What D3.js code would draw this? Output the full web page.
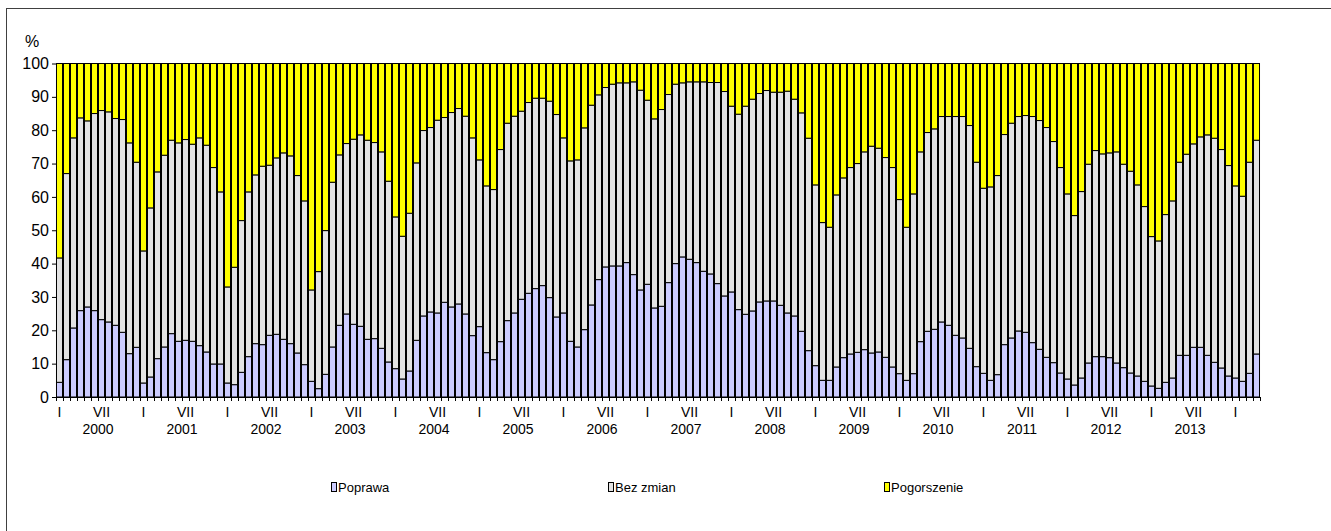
<!DOCTYPE html>
<html>
<head>
<meta charset="utf-8">
<script src="https://cdn.jsdelivr.net/npm/d3@7"></script>
<style>
  body { margin: 0; background: #fff; }
  svg text { font-family: "Liberation Sans", Arial, sans-serif; fill: #000; }
</style>
</head>
<body>
<div id="art"></div>
<script>
// months are shown as roman numerals, years below
const years = [2000, 2001, 2002, 2003, 2004, 2005, 2006, 2007, 2008, 2009, 2010, 2011, 2012, 2013, 2014];
const months = ["I", "II", "III", "IV", "V", "VI", "VII", "VIII", "IX", "X", "XI", "XII"];
const shownMonths = ["I", "VII"];
const seriesNames = ["Poprawa", "Bez zmian", "Pogorszenie"];
const yTicks = [0, 10, 20, 30, 40, 50, 60, 70, 80, 90, 100];

// one row per year, Jan..Dec (2014: Jan..Apr)
const poprawa = [
  4.4, 11.2, 20.7, 25.9, 27.0, 25.9, 23.2, 22.5, 21.5, 19.4, 13.0, 14.9,
  4.2, 6.0, 11.5, 15.0, 19.0, 16.7, 17.0, 16.7, 15.4, 13.5, 9.9, 9.9,
  4.2, 3.7, 7.4, 12.1, 16.0, 15.7, 18.5, 18.8, 17.3, 16.0, 13.2, 9.7,
  4.7, 2.5, 6.8, 15.0, 21.5, 24.9, 21.8, 21.2, 17.3, 17.5, 14.6, 10.5,
  8.5, 5.4, 7.8, 17.0, 24.3, 25.5, 25.2, 28.4, 27.0, 27.9, 24.9, 18.4,
  21.1, 13.3, 11.2, 16.6, 22.9, 25.2, 29.3, 31.1, 32.5, 33.4, 29.8, 24.0,
  25.2, 16.7, 15.0, 20.2, 27.6, 35.2, 39.0, 39.3, 39.3, 40.3, 36.7, 32.1,
  33.8, 26.7, 27.2, 34.3, 40.0, 42.0, 41.3, 40.3, 37.7, 36.9, 34.0, 30.3,
  31.5, 26.2, 24.8, 25.8, 28.5, 28.8, 28.8, 27.5, 25.2, 24.3, 19.7, 13.9,
  9.4, 5.0, 5.0, 9.0, 11.8, 12.9, 13.4, 14.2, 13.2, 13.5, 11.9, 9.0,
  7.0, 5.0, 7.0, 16.6, 19.7, 20.3, 22.5, 21.5, 18.5, 17.7, 14.6, 9.1,
  7.1, 5.0, 6.7, 15.7, 17.7, 19.8, 19.4, 16.3, 14.3, 11.9, 10.3, 7.2,
  5.4, 3.6, 5.7, 10.2, 12.1, 12.1, 11.8, 10.2, 8.8, 7.2, 6.3, 4.7,
  3.3, 2.6, 4.4, 5.7, 12.5, 12.5, 14.9, 14.9, 12.5, 10.4, 8.7, 6.3,
  5.7, 4.7, 7.1, 12.9
];

const bezZmian = [
  37.3, 55.8, 57.0, 57.8, 55.8, 59.1, 62.7, 63.0, 62.0, 63.8, 63.2, 55.5,
  39.6, 50.7, 56.0, 57.5, 58.0, 59.5, 60.2, 59.1, 62.3, 62.0, 58.9, 51.6,
  28.8, 35.2, 45.5, 49.4, 50.6, 53.5, 51.0, 52.9, 55.9, 56.3, 53.2, 49.1,
  27.4, 35.1, 43.1, 49.4, 51.1, 51.1, 55.5, 57.4, 59.7, 58.8, 58.9, 54.2,
  45.5, 42.8, 47.3, 53.2, 55.6, 55.3, 57.8, 55.4, 58.3, 58.6, 59.3, 59.3,
  50.0, 50.0, 51.0, 57.6, 59.2, 59.0, 56.4, 57.2, 57.1, 56.2, 58.9, 60.7,
  52.5, 54.1, 56.1, 60.5, 59.9, 55.4, 53.8, 54.5, 54.9, 53.9, 57.8, 59.9,
  55.2, 56.7, 59.0, 56.4, 53.8, 52.2, 53.2, 54.2, 56.8, 57.4, 60.3, 61.3,
  55.7, 58.6, 62.4, 63.5, 62.5, 63.1, 62.6, 63.9, 66.5, 65.0, 65.5, 63.7,
  54.2, 47.3, 45.9, 51.6, 53.9, 55.9, 56.6, 59.3, 62.0, 61.1, 59.9, 59.8,
  52.2, 45.9, 53.9, 56.9, 59.6, 60.1, 61.6, 62.6, 65.6, 66.4, 66.8, 61.3,
  55.5, 58.0, 59.7, 63.0, 64.4, 64.3, 65.0, 67.8, 68.6, 68.9, 66.3, 61.6,
  55.5, 50.8, 55.9, 59.6, 61.8, 60.8, 61.4, 63.3, 61.0, 60.5, 57.3, 52.4,
  44.8, 44.2, 50.3, 53.1, 57.9, 60.3, 61.0, 63.1, 66.1, 67.2, 65.5, 63.1,
  57.6, 55.5, 63.3, 64.1
];

const pogorszenie = [
  58.3, 33.0, 22.3, 16.3, 17.2, 15.0, 14.1, 14.5, 16.5, 16.8, 23.8, 29.6,
  56.2, 43.3, 32.5, 27.5, 23.0, 23.8, 22.8, 24.2, 22.3, 24.5, 31.2, 38.5,
  67.0, 61.1, 47.1, 38.5, 33.4, 30.8, 30.5, 28.3, 26.8, 27.7, 33.6, 41.2,
  67.9, 62.4, 50.1, 35.6, 27.4, 24.0, 22.7, 21.4, 23.0, 23.7, 26.5, 35.3,
  46.0, 51.8, 44.9, 29.8, 20.1, 19.2, 17.0, 16.2, 14.7, 13.5, 15.8, 22.3,
  28.9, 36.7, 37.8, 25.8, 17.9, 15.8, 14.3, 11.7, 10.4, 10.4, 11.3, 15.3,
  22.3, 29.2, 28.9, 19.3, 12.5, 9.4, 7.2, 6.2, 5.8, 5.8, 5.5, 8.0,
  11.0, 16.6, 13.8, 9.3, 6.2, 5.8, 5.5, 5.5, 5.5, 5.7, 5.7, 8.4,
  12.8, 15.2, 12.8, 10.7, 9.0, 8.1, 8.6, 8.6, 8.3, 10.7, 14.8, 22.4,
  36.4, 47.7, 49.1, 39.4, 34.3, 31.2, 30.0, 26.5, 24.8, 25.4, 28.2, 31.2,
  40.8, 49.1, 39.1, 26.5, 20.7, 19.6, 15.9, 15.9, 15.9, 15.9, 18.6, 29.6,
  37.4, 37.0, 33.6, 21.3, 17.9, 15.9, 15.6, 15.9, 17.1, 19.2, 23.4, 31.2,
  39.1, 45.6, 38.4, 30.2, 26.1, 27.1, 26.8, 26.5, 30.2, 32.3, 36.4, 42.9,
  51.9, 53.2, 45.3, 41.2, 29.6, 27.2, 24.1, 22.0, 21.4, 22.4, 25.8, 30.6,
  36.7, 39.8, 29.6, 23.0
];

const config = {
  settings: { width: 1331, height: 531 },
  plot: { left: 56, right: 1260, top: 63.5, bottom: 397 },
  style: {
    colours: ["#ccccff", "#e3e3e3", "#ffff00"],
    stroke: "#000",
    fontSize: 14,
    yFontSize: 16,
    legendFontSize: 13
  }
};

function art() {
  const { width, height } = config.settings;
  const p = config.plot;

  // categories: year + month, as many as there are values
  const cats = years.flatMap(yr => months.map(m => ({ year: yr, month: m })))
    .slice(0, poprawa.length);

  const data = cats.map((c, i) => ({
    i: i,
    year: c.year,
    month: c.month,
    "Poprawa": poprawa[i],
    "Bez zmian": bezZmian[i],
    "Pogorszenie": pogorszenie[i]
  }));

  const svg = d3.select("#art")
    .append("svg")
    .attr("width", width)
    .attr("height", height)
    .style("display", "block");

  // outer chart frame
  svg.append("rect")
    .attr("x", 6.5)
    .attr("y", 8.5)
    .attr("width", 1400)
    .attr("height", 600)
    .attr("fill", "none")
    .attr("stroke", "#404040");

  const x = d3.scaleBand()
    .domain(data.map(d => d.i))
    .range([p.left, p.right])
    .paddingInner(0.14)
    .paddingOuter(0.07);

  const y = d3.scaleLinear()
    .domain([0, 100])
    .range([p.bottom, p.top]);

  const stacked = d3.stack().keys(seriesNames)(data);

  svg.append("g")
    .selectAll("g")
    .data(stacked)
    .join("g")
    .attr("fill", (d, k) => config.style.colours[k])
    .selectAll("rect")
    .data(d => d)
    .join("rect")
    .attr("x", d => x(d.data.i))
    .attr("y", d => y(d[1]))
    .attr("width", x.bandwidth())
    .attr("height", d => y(d[0]) - y(d[1]))
    .attr("stroke", config.style.stroke)
    .attr("stroke-width", 1);

  // y axis
  const yAxis = svg.append("g")
    .attr("transform", `translate(${p.left},0)`)
    .call(d3.axisLeft(y).tickValues(yTicks).tickSize(4).tickSizeOuter(0).tickPadding(3));
  yAxis.selectAll("text")
    .style("font-size", config.style.yFontSize + "px")
    .style("font-family", '"Liberation Sans", Arial, sans-serif');
  yAxis.selectAll("line, path").attr("stroke", "#000");

  svg.append("text")
    .attr("x", 32)
    .attr("y", 47)
    .attr("text-anchor", "middle")
    .style("font-size", config.style.yFontSize + "px")
    .text("%");

  // x axis: ticks on the category boundaries
  const xEdge = d3.scaleLinear()
    .domain([0, data.length])
    .range([p.left, p.right]);
  const xAxis = svg.append("g")
    .attr("transform", `translate(0,${p.bottom})`)
    .call(d3.axisBottom(xEdge).tickValues(d3.range(data.length + 1))
      .tickSize(4).tickSizeOuter(0).tickFormat(""));
  xAxis.selectAll("line, path").attr("stroke", "#000");

  // month labels (I, VII)
  svg.append("g")
    .selectAll("text")
    .data(data.filter(d => shownMonths.includes(d.month)))
    .join("text")
    .attr("x", d => x(d.i) + x.bandwidth() / 2)
    .attr("y", 417)
    .attr("text-anchor", "middle")
    .style("font-size", config.style.fontSize + "px")
    .text(d => d.month);

  // year labels, only complete years
  const fullYears = years.filter(yr => data.filter(d => d.year === yr).length === 12);
  svg.append("g")
    .selectAll("text")
    .data(fullYears)
    .join("text")
    .attr("x", yr => {
      const first = data.find(d => d.year === yr).i;
      return xEdge(first + 6);
    })
    .attr("y", 434)
    .attr("text-anchor", "middle")
    .style("font-size", config.style.fontSize + "px")
    .text(yr => yr);

  // legend
  const legendX = [331, 608, 884];
  const legend = svg.append("g")
    .selectAll("g")
    .data(seriesNames)
    .join("g")
    .attr("transform", (d, k) => `translate(${legendX[k]},482)`);
  legend.append("rect")
    .attr("x", 0.5)
    .attr("y", 0.5)
    .attr("width", 5)
    .attr("height", 9)
    .attr("fill", (d, k) => config.style.colours[k])
    .attr("stroke", "#000");
  legend.append("text")
    .attr("x", 7)
    .attr("y", 10)
    .style("font-size", config.style.legendFontSize + "px")
    .text(d => d);
}

window.onload = function () {
  art();
};
</script>
</body>
</html>
